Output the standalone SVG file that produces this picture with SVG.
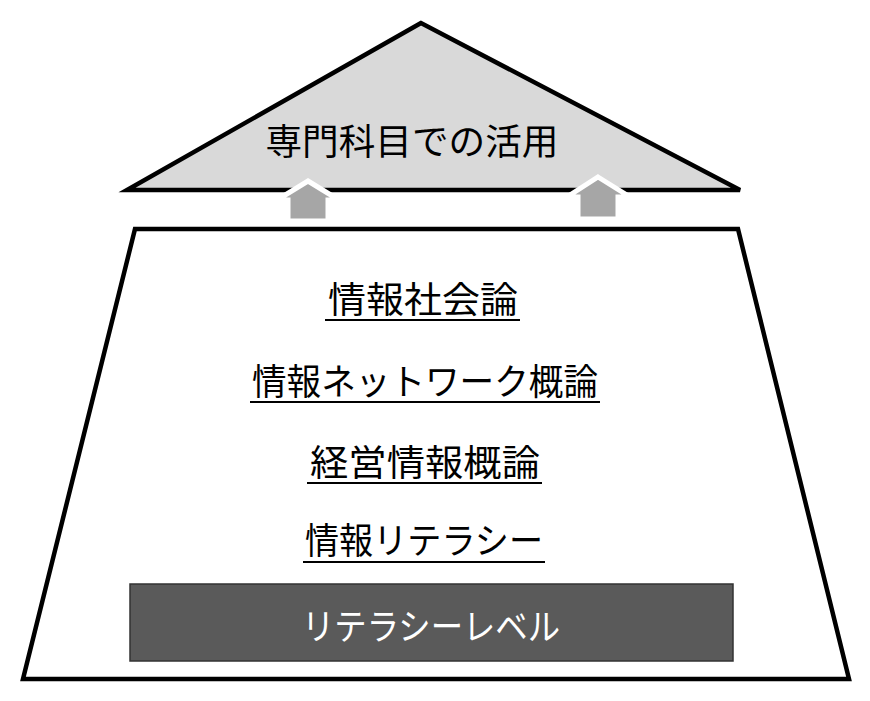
<svg xmlns="http://www.w3.org/2000/svg" width="870" height="701" viewBox="0 0 870 701">
<style>
.t{font-family:"Noto Sans CJK JP","Noto Sans CJK SC",sans-serif;font-size:36px;text-anchor:middle;fill:#000}
.ul{stroke:#000;stroke-width:2.2}
.arrow{fill:#a6a6a6;stroke:#fff;stroke-width:5;stroke-linejoin:miter}
</style>
<rect width="870" height="701" fill="#fff"/>
<g id="roof">
<polygon points="421,23 127,190 740,190" fill="#d9d9d9" stroke="#000" stroke-width="4.5" stroke-linejoin="miter"/>
<text class="t" x="412" y="155" font-size="35" textLength="293" lengthAdjust="spacingAndGlyphs">専門科目での活用</text>
</g>
<g id="base">
<polygon points="135,229 738,229 849,679 23,679" fill="#fff" stroke="#000" stroke-width="4.5" stroke-linejoin="miter"/>
</g>
<g id="course1">
<text class="t" x="423" y="313" textLength="190" lengthAdjust="spacingAndGlyphs">情報社会論</text>
<line class="ul" x1="325" y1="320" x2="520" y2="320"/>
</g>
<g id="course2">
<text class="t" x="425" y="395" textLength="346" lengthAdjust="spacingAndGlyphs">情報ネットワーク概論</text>
<line class="ul" x1="250" y1="402" x2="600" y2="402"/>
</g>
<g id="course3">
<text class="t" x="425" y="476" textLength="230" lengthAdjust="spacingAndGlyphs">経営情報概論</text>
<line class="ul" x1="307" y1="483" x2="542" y2="483"/>
</g>
<g id="course4">
<text class="t" x="424" y="554" textLength="238" lengthAdjust="spacingAndGlyphs">情報リテラシー</text>
<line class="ul" x1="303" y1="562" x2="545" y2="562"/>
</g>
<g id="literacy-level">
<rect x="130" y="584" width="603" height="77" fill="#5a5a5a" stroke="#333" stroke-width="1.5"/>
<text class="t" x="431" y="640" fill="#fff" style="fill:#fff" textLength="258" lengthAdjust="spacingAndGlyphs">リテラシーレベル</text>
</g>
<g id="connectors">
<polygon class="arrow" points="308,181 339,200 328,200 328,221 288,221 288,200 277,200"/>
<polygon class="arrow" points="598,177 630,197 618,197 618,219 578,219 578,197 567,197"/>
</g>
</svg>
